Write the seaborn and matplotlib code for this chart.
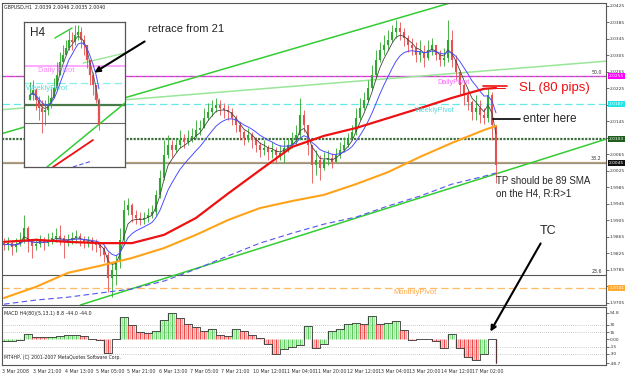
import numpy as np
import pandas as pd
import matplotlib
matplotlib.use("Agg")
import matplotlib.pyplot as plt
import matplotlib.transforms as mtrans
from matplotlib.patches import FancyArrowPatch
import seaborn as sns

sns.set_style("white")
plt.rcParams['font.family'] = ['DejaVu Sans']

# ---------------- data (GBPUSD, 2-hour steps of the H1 chart) ----------------
first_open = 1.9850
close = [1.9846, 1.9850, 1.9841, 1.9848, 1.9858, 1.9887, 1.9853, 1.9843, 1.9848, 1.9855,
         1.9850, 1.9858, 1.9862, 1.9867, 1.9862, 1.9853, 1.9858, 1.9862, 1.9867, 1.9860,
         1.9853, 1.9855, 1.9850, 1.9846, 1.9838, 1.9821, 1.9765, 1.9785, 1.9804, 1.9858,
         1.9930, 1.9942, 1.9918, 1.9911, 1.9906, 1.9911, 1.9918, 1.9925, 1.9967, 2.0008,
         2.0064, 2.0088, 2.0076, 2.0088, 2.0100, 2.0095, 2.0105, 2.0110, 2.0124, 2.0129,
         2.0153, 2.0168, 2.0177, 2.0185, 2.0177, 2.0173, 2.0168, 2.0153, 2.0136, 2.0119,
         2.0105, 2.0112, 2.0100, 2.0088, 2.0076, 2.0081, 2.0071, 2.0076, 2.0064, 2.0068,
         2.0081, 2.0088, 2.0100, 2.0112, 2.0160, 2.0136, 2.0088, 2.0039, 2.0052, 2.0032,
         2.0052, 2.0056, 2.0047, 2.0064, 2.0076, 2.0088, 2.0100, 2.0119, 2.0153, 2.0177,
         2.0197, 2.0226, 2.0257, 2.0294, 2.0318, 2.0330, 2.0342, 2.0362, 2.0371, 2.0362,
         2.0347, 2.0330, 2.0323, 2.0306, 2.0313, 2.0299, 2.0318, 2.0330, 2.0306, 2.0294,
         2.0299, 2.0342, 2.0294, 2.0265, 2.0233, 2.0209, 2.0192, 2.0168, 2.0177, 2.0160,
         2.0153, 2.0209, 2.0136, 2.0039]
high = [1.9862, 1.9865, 1.9858, 1.9862, 1.9877, 1.9918, 1.9891, 1.9858, 1.9862, 1.9870,
        1.9865, 1.9874, 1.9877, 1.9887, 1.9894, 1.9870, 1.9872, 1.9877, 1.9882, 1.9874,
        1.9867, 1.9867, 1.9865, 1.9860, 1.9853, 1.9843, 1.9828, 1.9804, 1.9821, 1.9887,
        1.9955, 1.9959, 1.9947, 1.9930, 1.9925, 1.9925, 1.9935, 1.9942, 1.9979, 2.0027,
        2.0100, 2.0112, 2.0100, 2.0105, 2.0124, 2.0115, 2.0124, 2.0129, 2.0148, 2.0148,
        2.0177, 2.0190, 2.0197, 2.0202, 2.0197, 2.0190, 2.0185, 2.0177, 2.0160, 2.0143,
        2.0124, 2.0129, 2.0119, 2.0107, 2.0095, 2.0100, 2.0088, 2.0095, 2.0083, 2.0088,
        2.0100, 2.0105, 2.0119, 2.0136, 2.0202, 2.0173, 2.0136, 2.0088, 2.0076, 2.0064,
        2.0071, 2.0076, 2.0068, 2.0081, 2.0095, 2.0107, 2.0117, 2.0136, 2.0177, 2.0202,
        2.0216, 2.0245, 2.0282, 2.0318, 2.0337, 2.0354, 2.0367, 2.0379, 2.0391, 2.0386,
        2.0371, 2.0354, 2.0347, 2.0337, 2.0342, 2.0330, 2.0342, 2.0347, 2.0330, 2.0318,
        2.0323, 2.0391, 2.0367, 2.0306, 2.0270, 2.0240, 2.0221, 2.0197, 2.0209, 2.0197,
        2.0177, 2.0226, 2.0216, 2.0100]
low = [1.9833, 1.9833, 1.9821, 1.9828, 1.9843, 1.9850, 1.9828, 1.9814, 1.9833, 1.9841,
       1.9833, 1.9843, 1.9848, 1.9853, 1.9846, 1.9814, 1.9843, 1.9848, 1.9850, 1.9843,
       1.9838, 1.9841, 1.9833, 1.9828, 1.9819, 1.9804, 1.9731, 1.9719, 1.9748, 1.9790,
       1.9846, 1.9918, 1.9901, 1.9896, 1.9894, 1.9896, 1.9901, 1.9911, 1.9918, 1.9959,
       2.0003, 2.0056, 2.0059, 2.0071, 2.0081, 2.0081, 2.0088, 2.0095, 2.0105, 2.0112,
       2.0129, 2.0148, 2.0158, 2.0168, 2.0160, 2.0153, 2.0148, 2.0136, 2.0119, 2.0100,
       2.0088, 2.0095, 2.0081, 2.0071, 2.0059, 2.0064, 2.0052, 2.0056, 2.0047, 2.0052,
       2.0044, 2.0071, 2.0081, 2.0088, 2.0100, 2.0119, 2.0064, 1.9996, 2.0015, 2.0003,
       2.0027, 2.0039, 2.0032, 2.0047, 2.0056, 2.0071, 2.0083, 2.0100, 2.0112, 2.0148,
       2.0173, 2.0192, 2.0221, 2.0250, 2.0289, 2.0306, 2.0318, 2.0337, 2.0347, 2.0342,
       2.0328, 2.0313, 2.0306, 2.0289, 2.0289, 2.0277, 2.0294, 2.0306, 2.0294, 2.0279,
       2.0279, 2.0289, 2.0277, 2.0245, 2.0209, 2.0185, 2.0173, 2.0148, 2.0148, 2.0141,
       2.0139, 2.0143, 2.0100, 1.9996]

# long moving averages (bar index, value)
ma_idx = [0, 8, 16, 24, 32, 40, 48, 56, 64, 72, 80, 88, 96, 104, 112, 120, 123]
ma_red = [1.9853, 1.9858, 1.9853, 1.9850, 1.9850, 1.9870, 1.9911, 1.9970, 2.0027, 2.0083,
          2.0110, 2.0129, 2.0153, 2.0177, 2.0202, 2.0224, 2.0226]
ma_orange = [1.9717, 1.9744, 1.9778, 1.9795, 1.9814, 1.9838, 1.9870, 1.9906, 1.9935, 1.9952,
             1.9967, 1.9993, 2.0022, 2.0059, 2.0093, 2.0124, 2.0134]
ma_blue = [1.9702, 1.9712, 1.9719, 1.9729, 1.9739, 1.9758, 1.9787, 1.9819, 1.9850, 1.9874,
           1.9896, 1.9913, 1.9940, 1.9964, 1.9993, 2.0012, 2.0020]

# MACD (H4 values, each covering two 2-hour bars)
macd_h4 = [-4, -3, -2, 12, 6, 5, 6, 7, 9, 10, 7, 2, -2, -28, 0, 47, 30, 15, 14, 17,
           40, 54, 45, 33, 26, 18, 22, 10, 8, 22, 18, 10, 4, -10, -30, -20, -16, -12, 28, -18,
           -10, 18, 22, 32, 34, 33, 48, 32, 34, 38, 20, -2, 0, 0, -3, -18, 12, -18, -36, -43,
           -30, 0, -48]

# horizontal levels
daily_pivot = 2.0255
weekly_pivot = 2.0187
monthly_pivot = 1.9741
green_level = 2.0103
fib_382 = 2.0045
fib_236 = 1.9773

# trend lines (bar index, price)
tl_low = ((24, 1.9715), (150.5, 2.0102))
tl_up = ((-1, 2.0114), (114, 2.0439))
tl_light = ((-1, 2.0173), (150.5, 2.0291))

price_ticks = [2.0425, 2.0385, 2.0345, 2.0305, 2.0265, 2.0225, 2.0185, 2.0145, 2.0105, 2.0065,
               2.0025, 1.9985, 1.9945, 1.9905, 1.9865, 1.9825, 1.9785, 1.9745, 1.9705]
hidden_ticks = [2.0185, 2.0105, 1.9745]   # covered by the coloured price boxes
date_pos = [-0.5, 7.25, 15.25, 23, 30.75, 38.75, 46.5, 54.25, 62.25, 70, 77.75, 85.75,
            93.5, 101.25, 109.25, 117]
date_labels = ["3 Mar 2008", "3 Mar 21:00", "4 Mar 13:00", "5 Mar 05:00", "5 Mar 21:00",
               "6 Mar 13:00", "7 Mar 05:00", "7 Mar 21:00", "10 Mar 12:00", "11 Mar 04:00",
               "11 Mar 20:00", "12 Mar 12:00", "13 Mar 04:00", "13 Mar 20:00", "14 Mar 12:00",
               "17 Mar 02:00"]
macd_ticks = [54.8, 30, 15, 0, -15, -30, -48.7]
macd_tick_labels = ["54.8", "30", "15", "0.00", "-15", "-30", "-48.7"]

# H4 inset data
ins_open0 = 2.0120
ins_close = [2.0139, 2.0159, 2.0119, 2.0087, 2.0071, 2.0079, 2.0099, 2.0127, 2.0167, 2.0219,
             2.0271, 2.0299, 2.0327, 2.0359, 2.0351, 2.0379, 2.0391, 2.0359, 2.0339, 2.0279,
             2.0219, 2.0179, 2.0119, 2.0019]
ins_high = [2.0191, 2.0199, 2.0167, 2.0135, 2.0119, 2.0119, 2.0139, 2.0167, 2.0207, 2.0271,
            2.0311, 2.0339, 2.0359, 2.0399, 2.0391, 2.0419, 2.0419, 2.0411, 2.0379, 2.0339,
            2.0279, 2.0231, 2.0167, 2.0127]
ins_low = [2.0119, 2.0119, 2.0079, 2.0039, 1.9987, 2.0019, 2.0059, 2.0087, 2.0127, 2.0159,
           2.0231, 2.0271, 2.0299, 2.0319, 2.0319, 2.0339, 2.0359, 2.0327, 2.0299, 2.0247,
           2.0179, 2.0139, 2.0107, 1.9999]
ins_levels = [2.0255, 2.0187, 2.0099, 2.0027]

# ---------------- figure ----------------
W, H = 625, 375
fig = plt.figure(figsize=(W / 100, H / 100), dpi=100)
fig.patch.set_facecolor("white")


def fx(p):
    return p / W


def fy(p):
    return 1 - p / H


def style_spines(a, c="#555555", lw=0.8):
    for s in a.spines.values():
        s.set_color(c)
        s.set_linewidth(lw)


def candles(a, o, c, h, l, bw, ww, up_col, dn_col):
    o = np.asarray(o); c = np.asarray(c)
    x = np.arange(len(c))
    hi = np.maximum(np.asarray(h), np.maximum(o, c))
    lo = np.minimum(np.asarray(l), np.minimum(o, c))
    cols = [up_col if cc >= oo else dn_col for oo, cc in zip(o, c)]
    a.vlines(x, lo, hi, colors=cols, lw=ww, zorder=3)
    bot = np.minimum(o, c); top = np.maximum(o, c)
    top = np.where(top - bot < 0.00012, bot + 0.00012, top)
    a.vlines(x, bot, top, colors=cols, lw=bw, zorder=3)


ax = fig.add_axes([fx(2), fy(305), fx(606) - fx(2), fy(3) - fy(305)])
ax.set_xlim(-0.5, 150.5)
ax.set_ylim(1.9700, 2.0432)
style_spines(ax)

# levels
ax.axhline(daily_pivot, color="#ff33ff", lw=1.0, zorder=1)
ax.axhline(daily_pivot, color="#777777", lw=0.6, ls=(0, (4, 4)), zorder=1)
ax.axhline(weekly_pivot, color="#66e8e8", lw=0.9, ls=(0, (6, 3)), zorder=1)
ax.axhline(green_level, color="#3d6e3d", lw=1.6, ls=(0, (1, 0.6)), zorder=1)
ax.axhline(fib_382, color="#b8a27a", lw=1.6, zorder=1)
ax.axhline(fib_382, color="#8a8a8a", lw=0.5, zorder=1)
ax.axhline(fib_236, color="#555555", lw=0.8, zorder=1)
ax.axhline(monthly_pivot, color="#ffbb66", lw=0.9, ls=(0, (6, 3)), zorder=1)

# trend lines
ax.axline(*tl_low, color="#33cc33", lw=1.1, zorder=2)
ax.axline(*tl_up, color="#33cc33", lw=1.1, zorder=2)
ax.axline(*tl_light, color="#99e699", lw=1.1, zorder=2)

# candles
opn = [first_open] + close[:-1]
candles(ax, opn, close, high, low, 1.5, 0.6, "#2ea82e", "#e65050")

# short moving averages from close
df = pd.DataFrame({"i": np.arange(len(close)), "close": close})
df["fast"] = df["close"].ewm(span=4, adjust=False).mean()
df["mid"] = df["close"].ewm(span=10, adjust=False).mean()
sns.lineplot(data=df, x="i", y="fast", ax=ax, color="#444444", lw=0.6, zorder=4)
sns.lineplot(data=df, x="i", y="mid", ax=ax, color="#4d4dff", lw=0.7, zorder=4)

mdf = pd.DataFrame({"i": ma_idx, "red": ma_red, "orange": ma_orange, "blue": ma_blue})
sns.lineplot(data=mdf, x="i", y="blue", ax=ax, color="#5555ee", lw=0.8, ls=(0, (5, 3)), zorder=4)
sns.lineplot(data=mdf, x="i", y="orange", ax=ax, color="#ffa31a", lw=1.5, zorder=4)
sns.lineplot(data=mdf, x="i", y="red", ax=ax, color="#ee1111", lw=1.6, zorder=5)

ax.set_xlabel(""); ax.set_ylabel("")
ax.set_xticks([])
ax.yaxis.tick_right()
ax.set_yticks(price_ticks)
ax.set_yticklabels(["" if v in hidden_ticks else f"{v:.4f}" for v in price_ticks])
ax.tick_params(axis="y", labelsize=3.2, length=2, width=0.5, pad=0.8, colors="#333333")

# right-side price boxes
btr = mtrans.blended_transform_factory(ax.transAxes, ax.transData)
for val, fc in [(daily_pivot, "#ff00ff"), (weekly_pivot, "#22e5e5"), (green_level, "#1f5c1f"),
                (fib_382, "#111111"), (monthly_pivot, "#ffaa33")]:
    ax.text(1.005, val, f"{val:.4f}", transform=btr, fontsize=3.2, color="white",
            va="center", ha="left", clip_on=False, zorder=10,
            bbox=dict(boxstyle="square,pad=0.2", fc=fc, ec="none"))
for val, lab in [(daily_pivot, "50.0"), (fib_382, "38.2"), (fib_236, "23.6")]:
    ax.text(0.993, val + 0.0003, lab, transform=btr, fontsize=3.4, color="#333333",
            ha="right", va="bottom", zorder=6)

# SL and entry markers
ax.plot([119.75, 125.75], [2.0231, 2.0231], color="#ee1111", lw=1.2, zorder=6)
ax.plot([120.75, 125.25], [2.0227, 2.0227], color="#ee1111", lw=0.7, zorder=6)
ax.plot([122.25, 129.0], [2.0151, 2.0151], color="black", lw=1.2, zorder=6)

# ---------------- MACD panel ----------------
ax2 = fig.add_axes([fx(2), fy(365), fx(606) - fx(2), fy(307) - fy(365)])
ax2.set_xlim(-0.5, 150.5)
ax2.set_ylim(-52.8, 67.2)
style_spines(ax2)
for g in [30, 15, -15, -30]:
    ax2.axhline(g, color="#999999", lw=0.5, ls=(0, (1, 2)), zorder=1)
mvals = np.repeat(macd_h4, 4).astype(float)
mx = np.arange(len(mvals)) * 0.5 - 1.0
keep = mx <= 123.3
mvals = mvals[keep]; mx = mx[keep]
rising = [True] + [macd_h4[j] >= macd_h4[j - 1] for j in range(1, len(macd_h4))]
scols = []
for k in range(len(mvals)):
    j = k // 4
    if rising[j]:
        scols.append("#5cc85c" if k % 2 == 0 else "#a6e6a6")
    else:
        scols.append("#f04848" if k % 2 == 0 else "#f6a0a0")
ax2.vlines(mx, 0, mvals, colors=scols, lw=1.0, zorder=2)
sdf = pd.DataFrame({"x": mx, "v": mvals})
sns.lineplot(data=sdf, x="x", y="v", ax=ax2, color="#333333", lw=0.6, drawstyle="steps-post", zorder=3)
ax2.set_xlabel(""); ax2.set_ylabel("")
ax2.yaxis.tick_right()
ax2.set_yticks(macd_ticks)
ax2.set_yticklabels(macd_tick_labels)
ax2.tick_params(axis="y", labelsize=3.2, length=2, width=0.5, pad=0.8, colors="#333333")
ax2.set_xticks(date_pos)
ax2.set_xticklabels(date_labels, ha="left")
ax2.tick_params(axis="x", labelsize=3.4, length=2, width=0.5, pad=1, colors="#333333")

# ---------------- H4 inset ----------------
ai = fig.add_axes([fx(24), fy(167), fx(125) - fx(24), fy(22) - fy(167)], zorder=5)
ai.set_facecolor("white")
ai.set_xlim(-2, 31.67)
ai.set_ylim(1.9851, 2.0431)
style_spines(ai, "#555555", 0.9)
ai.set_xticks([]); ai.set_yticks([])
ai.axhline(ins_levels[0], color="#ff99ff", lw=1.2, zorder=1)
ai.axhline(ins_levels[1], color="#88eeee", lw=0.9, ls=(0, (6, 3)), zorder=1)
ai.axhline(ins_levels[2], color="#4a7a4a", lw=1.6, zorder=1)
ai.axhline(ins_levels[3], color="#666666", lw=0.8, zorder=1)
ai.plot([7.67, 21], [1.9851, 1.9959], color="#ee1111", lw=1.3, zorder=2)
ai.plot([5.67, 31.67], [1.9851, 2.0107], color="#33cc33", lw=1.1, zorder=2)
ai.plot([14.3, 20.7], [1.9851, 1.9875], color="#5555ee", lw=0.8, ls=(0, (4, 2)), zorder=2)
ai.plot([8.3, 14], [2.0367, 2.0407], color="#33cc33", lw=1.0, zorder=2)
ai.plot([17.7, 31.67], [2.0267, 2.0307], color="#99e699", lw=1.0, zorder=2)
ins_open = [ins_open0] + ins_close[:-1]
candles(ai, ins_open, ins_close, ins_high, ins_low, 1.6, 0.6, "#2ea82e", "#e65050")
idf = pd.DataFrame({"k": np.arange(len(ins_close)), "c": ins_close})
idf["fast"] = idf["c"].ewm(span=3, adjust=False).mean()
idf["mid"] = idf["c"].ewm(span=6, adjust=False).mean()
sns.lineplot(data=idf, x="k", y="fast", ax=ai, color="#555555", lw=0.6, zorder=4)
sns.lineplot(data=idf, x="k", y="mid", ax=ai, color="#4d4dff", lw=0.7, zorder=4)
ai.set_xlabel(""); ai.set_ylabel("")

# ---------------- texts & arrows ----------------
ann = ["Liberation Sans", "DejaVu Sans"]
fig.text(fx(4), fy(7), "GBPUSD,H1  2.0039 2.0046 2.0035 2.0040", fontsize=3.4, va="center", color="#222222")
fig.text(fx(4), fy(313), "MACD H4(80)(5,13,1) 8.8 -44.0 -44.0", fontsize=3.4, va="center", color="#222222")
fig.text(fx(4), fy(357), "MT4HP, (C) 2001-2007 MetaQuotes Software Corp.", fontsize=3.3, va="center", color="#222222")
fig.text(fx(30), fy(33), "H4", fontsize=8.5, va="center", family=ann, zorder=20)
fig.text(fx(38), fy(70), "Daily Pivot", fontsize=5.5, va="center", color="#ff88ff", family=ann, zorder=20)
fig.text(fx(26), fy(88), "WeeklyPivot", fontsize=5.5, va="center", color="#55dddd", family=ann, zorder=20)
fig.text(fx(148), fy(29), "retrace from 21", fontsize=8, va="center", family=ann)
fig.text(fx(519), fy(88), "SL (80 pips)", fontsize=9.5, va="center", color="#ee1111", family=ann)
fig.text(fx(523), fy(119), "enter here", fontsize=8.5, va="center", family=ann)
fig.text(fx(496), fy(181), "TP should be 89 SMA", fontsize=7, va="center", family=ann)
fig.text(fx(496), fy(193), "on the H4, R:R>1", fontsize=7, va="center", family=ann)
fig.text(fx(540), fy(231), "TC", fontsize=9, va="center", family=ann)
fig.text(fx(437), fy(82), "DailyPivot", fontsize=5.2, va="center", color="#ff66ff", family=ann)
fig.text(fx(415), fy(110), "WeeklyPivot", fontsize=5.2, va="center", color="#55dddd", family=ann)
fig.text(fx(393), fy(293), "MonthlyPivot", fontsize=5.4, va="center", color="#ffaa44", family=ann)

for (x0, y0), (x1, y1) in [((147, 40), (92, 74)), ((542, 241), (489, 334))]:
    arr = FancyArrowPatch((fx(x0), fy(y0)), (fx(x1), fy(y1)), transform=fig.transFigure,
                          arrowstyle="-|>", mutation_scale=8, lw=1.5, color="black", zorder=30)
    fig.add_artist(arr)

fig.savefig("out.png", dpi=100, facecolor="white")
